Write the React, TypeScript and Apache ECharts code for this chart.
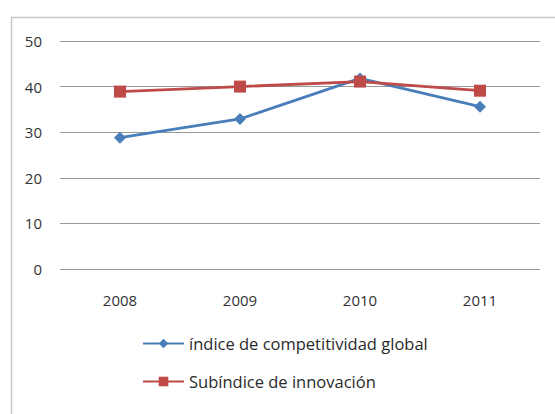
import React, { useEffect, useRef } from "react";
import * as echarts from "echarts";

const categories = ["2008", "2009", "2010", "2011"];
const indiceGlobal = [28.8, 32.9, 41.8, 35.6];
const subindiceInnovacion = [38.9, 40, 41.1, 39.1];
const seriesNames = ["índice de competitividad global", "Subíndice de innovación"];

export default function App() {
  const ref = useRef<HTMLDivElement>(null);
  useEffect(() => {
    if (!ref.current) return;
    const chart = echarts.init(ref.current, undefined, { renderer: "svg" });
    const font = "'Open Sans', 'Noto Sans', sans-serif";
    chart.setOption({
      animation: false,
      backgroundColor: "#ffffff",
      graphic: [
        {
          type: "rect",
          left: 9,
          top: 15,
          shape: { width: 620, height: 460 },
          style: { fill: "none", stroke: "#c8c8c8", lineWidth: 1.5 },
          z: -1,
        },
      ],
      grid: { left: 60, right: 15, top: 41, bottom: 145 },
      xAxis: {
        type: "category",
        data: categories,
        boundaryGap: true,
        axisLine: { show: false },
        axisTick: { show: false },
        axisLabel: { color: "#333", fontSize: 15, fontFamily: font, margin: 23 },
      },
      yAxis: {
        type: "value",
        min: 0,
        max: 50,
        interval: 10,
        axisLine: { show: false },
        axisTick: { show: false },
        axisLabel: { color: "#333", fontSize: 15, fontFamily: font, margin: 18 },
        splitLine: { lineStyle: { color: "#9a9a9a", width: 1.2 } },
      },
      legend: {
        orient: "vertical",
        left: 137,
        top: 330,
        itemWidth: 41,
        itemHeight: 12,
        itemGap: 21,
        textStyle: { color: "#2a2a2a", fontSize: 16.5, fontFamily: font },
        data: seriesNames,
      },
      series: [
        {
          name: seriesNames[0],
          type: "line",
          data: indiceGlobal,
          symbol: "diamond",
          symbolSize: 12,
          color: "#4a7ebb",
          lineStyle: { width: 2.8, color: "#4a7ebb" },
          itemStyle: { color: "#4a7ebb" },
        },
        {
          name: seriesNames[1],
          type: "line",
          data: subindiceInnovacion,
          symbol: "rect",
          symbolSize: 12,
          color: "#be4b48",
          lineStyle: { width: 2.8, color: "#be4b48" },
          itemStyle: { color: "#be4b48" },
        },
      ],
    });
    return () => chart.dispose();
  }, []);
  return <div ref={ref} style={{ width: 555, height: 414, position: "absolute", left: 0, top: 0 }} />;
}
